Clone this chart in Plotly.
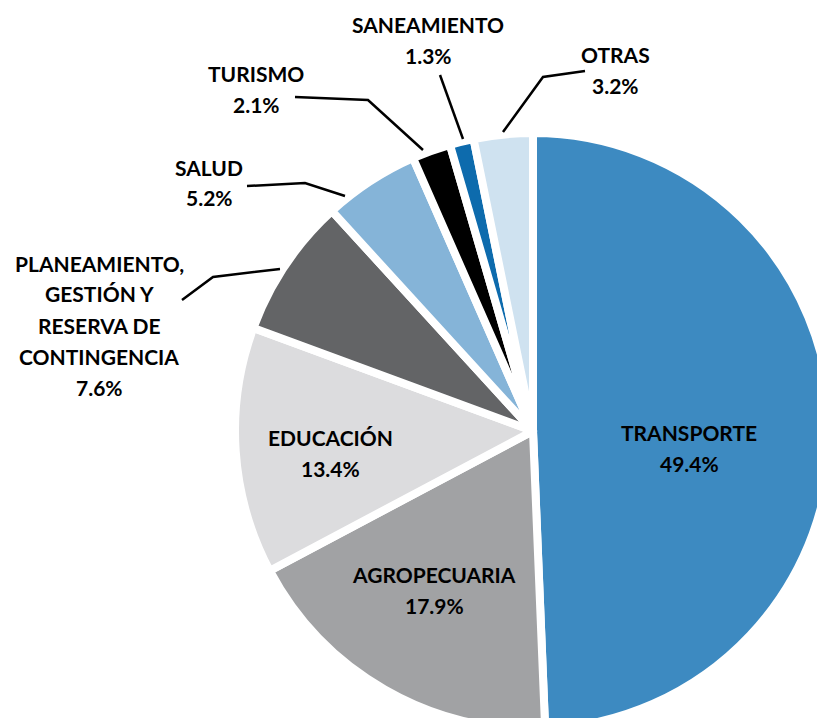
import plotly.graph_objects as go

# Data: share of the budget by sector (%), clockwise from 12 o'clock
sectores = ["TRANSPORTE", "AGROPECUARIA", "EDUCACIÓN",
            "PLANEAMIENTO, GESTIÓN Y RESERVA DE CONTINGENCIA",
            "SALUD", "TURISMO", "SANEAMIENTO", "OTRAS"]
participacion = [49.4, 17.9, 13.4, 7.6, 5.2, 2.1, 1.3, 3.2]

# how each sector name is broken into lines on the chart
lineas_nombre = [["TRANSPORTE"], ["AGROPECUARIA"], ["EDUCACIÓN"],
                 ["PLANEAMIENTO,", "GESTIÓN Y", "RESERVA DE", "CONTINGENCIA"],
                 ["SALUD"], ["TURISMO"], ["SANEAMIENTO"], ["OTRAS"]]

colores = ["#3d8ac1", "#a1a2a4", "#dcdcde", "#636466",
           "#85b4d8", "#000000", "#0d6bad", "#cfe2f0"]

# ---- layout (pixels, measured from top-left of the page) ----
W, H = 840, 740          # larger than the window: the pie is cut at right/bottom
CX, CY, R = 533, 431, 298
LINE_GAP = 31

# centre of the first text line of each label
pos_etiqueta = [(689, 432), (434, 574), (330, 437), (99, 263),
                (209, 167), (256, 73), (428, 24), (615, 54)]

# leader lines for the outside labels
guias = [
    [(182, 300), (213, 277), (280, 269)],
    [(247, 186), (305, 183), (345, 196)],
    [(295, 97), (368, 100), (423, 150)],
    [(440, 75), (463, 139)],
    [(503, 132), (543, 77), (585, 71)],
]


def px(x):
    return x / W


def py(y):
    return 1 - y / H


fig = go.Figure(go.Pie(
    labels=sectores,
    values=participacion,
    sort=False,
    direction="clockwise",
    rotation=0,
    marker=dict(colors=colores, line=dict(color="white", width=8)),
    textinfo="none",
    hoverinfo="label+percent",
    domain=dict(x=[px(CX - R), px(CX + R)], y=[py(CY + R), py(CY - R)]),
    showlegend=False,
))

font = dict(family="Lato, Arial, sans-serif", size=21, color="black", weight="bold")
annotations = []
for nombres, valor, (x, y) in zip(lineas_nombre, participacion, pos_etiqueta):
    for i, txt in enumerate(nombres + [f"{valor:.1f}%"]):
        annotations.append(dict(
            x=px(x), y=py(y + i * LINE_GAP), xref="paper", yref="paper",
            text=txt, showarrow=False, xanchor="center", yanchor="middle",
            font=font,
        ))

shapes = []
for g in guias:
    path = "M " + " L ".join(f"{px(x)},{py(y)}" for x, y in g)
    shapes.append(dict(type="path", path=path, xref="paper", yref="paper",
                       line=dict(color="black", width=2.5)))

fig.update_layout(
    width=W, height=H,
    margin=dict(l=0, r=0, t=0, b=0),
    paper_bgcolor="white",
    plot_bgcolor="white",
    annotations=annotations,
    shapes=shapes,
)

# figure sits at the page corner; the part beyond the window is simply cut off
fig.write_html(
    "out.html",
    config={"displayModeBar": False},
    post_script="document.body.style.margin='0';"
                "document.documentElement.style.overflow='hidden';",
)
